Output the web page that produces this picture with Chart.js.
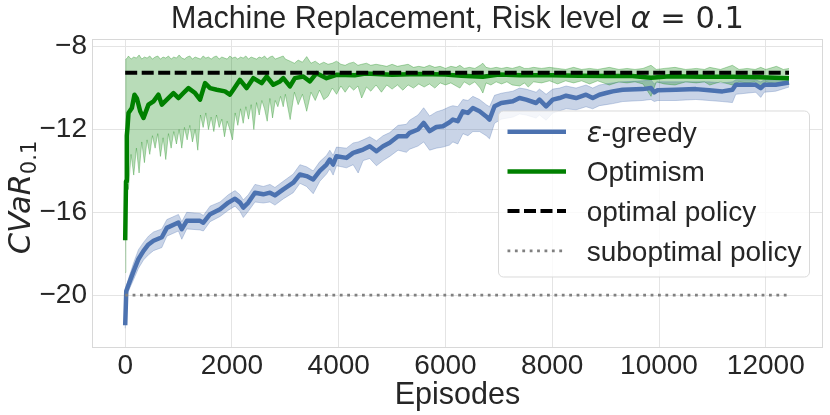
<!DOCTYPE html>
<html>
<head>
<meta charset="utf-8">
<script src="https://cdn.jsdelivr.net/npm/chart.js@4.4.1/dist/chart.umd.min.js"></script>
<style>
  html, body { margin: 0; padding: 0; background: #ffffff; }
  #wrap { width: 830px; height: 415px; }
</style>
</head>
<body>
<div id="wrap"><canvas id="cvarChart" width="830" height="415"></canvas></div>
<script>
// ---- data ----
const xTicks = [0, 2000, 4000, 6000, 8000, 10000, 12000];
const yTicks = [-20, -16, -12, -8];

const blueEp = [0, 20, 62, 156, 249, 343, 436, 530, 686, 780, 997, 1060, 1153, 1402, 1464, 1590, 1777, 1932, 2057, 2150,
  2212, 2306, 2431, 2587, 2712, 2805, 2961, 3148, 3273, 3397, 3522, 3646, 3771, 3833, 3895, 3958, 4145, 4270, 4364, 4457,
  4581, 4706, 4830, 4955, 5111, 5267, 5329, 5485, 5591, 5703, 5828, 5952, 6077, 6139, 6230, 6326, 6420, 6513, 6638, 6763,
  6825, 6919, 7044, 7262, 7386, 7510, 7698, 7760, 7885, 8010, 8135, 8259, 8446, 8633, 8758, 8883, 9007, 9132, 9319, 9693,
  9850, 9911, 9975, 10316, 10690, 10939, 11188, 11375, 11438, 11812, 11906, 11970, 12186, 12435];
const blueMean = [-21.45, -19.8, -19.5, -18.85, -18.25, -17.86, -17.55, -17.37, -17.2, -16.75, -16.49, -16.81, -16.41, -16.41, -16.5, -16.09, -15.85, -15.53, -15.34, -15.53,
  -15.77, -15.53, -15.05, -15.13, -15.05, -15.18, -14.89, -14.57, -14.17, -14.25, -14.41, -14.0, -13.69, -13.45, -13.69, -13.29, -13.37, -13.13, -13.05, -12.97,
  -12.81, -13.05, -12.81, -12.64, -12.33, -12.33, -12.16, -12.0, -11.68, -12.08, -11.88, -11.84, -11.65, -11.52, -11.6, -11.12, -11.2, -10.96, -11.12, -11.37,
  -11.52, -10.88, -10.72, -10.64, -10.48, -10.56, -10.72, -10.56, -10.88, -10.56, -10.48, -10.37, -10.48, -10.32, -10.48, -10.32, -10.24, -10.16, -10.08, -10.05,
  -10.0, -10.21, -10.1, -10.08, -10.05, -10.1, -10.16, -10.08, -9.84, -9.84, -10.0, -9.84, -9.84, -9.73];
const blueHigh = [-21.3, -19.6, -19.2, -18.45, -17.8, -17.45, -17.15, -16.95, -16.8, -16.35, -16.1, -16.45, -16.0, -16.05, -16.15, -15.7, -15.5, -15.15, -14.95, -15.15,
  -15.4, -15.15, -14.65, -14.75, -14.65, -14.8, -14.5, -14.15, -13.7, -13.8, -14.0, -13.55, -13.25, -13.0, -13.25, -12.85, -12.9, -12.65, -12.6, -12.5,
  -12.35, -12.55, -12.3, -12.15, -11.8, -11.75, -11.55, -11.3, -10.95, -11.35, -11.15, -11.05, -10.9, -10.85, -10.9, -10.55, -10.6, -10.4, -10.55, -10.8,
  -10.9, -10.35, -10.25, -10.15, -10.0, -10.05, -10.2, -10.05, -10.3, -10.05, -10.0, -9.9, -10.0, -9.85, -10.0, -9.85, -9.8, -9.75, -9.7, -9.65,
  -9.6, -9.8, -9.7, -9.7, -9.7, -9.7, -9.75, -9.7, -9.6, -9.6, -9.7, -9.6, -9.6, -9.55];
const blueLow = [-21.6, -20.0, -19.8, -19.25, -18.7, -18.3, -18.05, -17.85, -17.7, -17.15, -16.9, -17.3, -16.8, -16.85, -16.9, -16.45, -16.2, -15.9, -15.7, -15.95,
  -16.25, -15.95, -15.5, -15.55, -15.5, -15.65, -15.35, -15.05, -14.6, -14.75, -15.1, -14.5, -14.15, -13.9, -14.2, -13.75, -13.85, -13.7, -14.1, -13.5,
  -13.4, -13.75, -13.5, -13.3, -13.0, -13.1, -12.95, -12.8, -12.6, -13.0, -12.9, -12.85, -12.75, -12.6, -12.7, -12.2, -12.3, -12.1, -12.1, -12.3,
  -12.45, -11.7, -11.5, -11.4, -11.25, -11.3, -11.45, -11.3, -11.55, -11.2, -11.1, -11.0, -11.05, -10.9, -11.0, -10.85, -10.8, -10.75, -10.65, -10.6,
  -10.55, -10.65, -10.6, -10.6, -10.55, -10.6, -10.65, -10.7, -10.3, -10.2, -10.45, -10.2, -10.15, -9.95];

const greenEp = [0, 15, 30, 45, 62, 125, 174, 220, 281, 343, 436, 530, 623, 686, 780, 904, 1000, 1090, 1184, 1309,
  1402, 1496, 1590, 1714, 1870, 1960, 2025, 2150, 2275, 2399, 2556, 2649, 2774, 2899, 2961, 3086, 3179, 3335, 3460, 3584,
  3771, 3958, 4300, 4500, 5000, 5500, 6000, 6300, 6700, 7000, 7400, 8000, 8500, 9000, 9500, 9850, 10200, 10800, 11400, 11900, 12435];
const greenMean = [-17.35, -14.5, -12.3, -11.85, -11.2, -10.96, -10.32, -10.5, -11.12, -11.44, -10.8, -10.64, -10.32, -10.8, -10.56, -10.24, -10.48, -10.24, -10.0, -10.24,
  -10.56, -9.76, -10.0, -10.08, -10.16, -10.32, -10.08, -9.6, -10.0, -9.52, -9.76, -9.44, -9.84, -9.68, -9.52, -9.92, -9.52, -9.44, -9.68, -9.28,
  -9.52, -9.36, -9.38, -9.3, -9.36, -9.32, -9.35, -9.4, -9.45, -9.35, -9.38, -9.38, -9.4, -9.42, -9.42, -9.5, -9.43, -9.45, -9.45, -9.48, -9.52];

const greenBandEp = [0, 12, 40, 60, 110, 160, 210, 260, 310, 360, 410, 460, 510, 560, 610, 660, 710, 760, 810, 860,
  910, 960, 1010, 1060, 1110, 1160, 1210, 1260, 1310, 1360, 1410, 1460, 1510, 1560, 1610, 1660, 1710, 1760, 1810, 1860,
  1910, 1960, 2010, 2060, 2110, 2160, 2210, 2260, 2310, 2360, 2410, 2460, 2510, 2560, 2610, 2660, 2710, 2760, 2810, 2860,
  2910, 2960, 3000, 3090, 3170, 3240, 3320, 3400, 3480, 3560, 3640, 3720, 3800, 3880, 3960, 4040, 4120, 4200, 4280, 4360,
  4430, 4520, 4600, 4700, 4800, 4900, 5000, 5100, 5200, 5300, 5400, 5500, 5600, 5700, 5800, 5900, 6000, 6100, 6200, 6270,
  6350, 6450, 6550, 6650, 6700, 6760, 6850, 6950, 7050, 7150, 7250, 7390, 7480, 7550, 7650, 7800, 7950, 8100, 8250, 8400,
  8550, 8700, 8850, 9070, 9250, 9400, 9550, 9700, 9850, 9950, 10100, 10300, 10500, 10700, 10850, 10950, 11150, 11375, 11500, 11650,
  11800, 11906, 12000, 12200, 12330, 12435];
const greenHigh = [-16.8, -8.6, -8.55, -8.45, -8.6, -8.5, -8.55, -8.4, -8.6, -8.5, -8.55, -8.45, -8.6, -8.5, -8.45, -8.6, -8.5, -8.55, -8.45, -8.6,
  -8.5, -8.55, -8.4, -8.55, -8.6, -8.5, -8.45, -8.6, -8.5, -8.55, -8.6, -8.45, -8.55, -8.5, -8.6, -8.5, -8.45, -8.6, -8.5, -8.55,
  -8.6, -8.45, -8.55, -8.5, -8.6, -8.5, -8.55, -8.45, -8.6, -8.5, -8.55, -8.6, -8.5, -8.55, -8.45, -8.6, -8.5, -8.45, -8.6, -8.55,
  -8.5, -8.45, -8.6, -8.7, -8.8, -8.65, -8.75, -8.48, -8.8, -8.7, -8.85, -8.75, -8.85, -8.8, -8.7, -8.85, -8.9, -8.8, -8.75, -8.9,
  -8.85, -8.8, -8.9, -8.85, -8.9, -8.95, -8.85, -8.95, -8.9, -8.85, -9.0, -8.95, -9.0, -8.9, -9.0, -8.95, -9.05, -8.95, -9.0, -8.9,
  -9.05, -9.0, -9.05, -8.9, -8.8, -9.0, -9.05, -9.0, -9.05, -9.0, -9.05, -8.95, -9.05, -9.05, -9.0, -9.05, -9.0, -9.05, -9.1, -9.0,
  -9.1, -9.05, -9.1, -9.0, -9.1, -9.05, -9.1, -9.05, -8.9, -9.1, -9.05, -9.0, -9.1, -9.05, -9.1, -9.0, -9.1, -8.9, -9.1, -9.05,
  -9.1, -9.0, -9.1, -8.95, -9.1, -9.05];
const greenLow = [-18.9, -16.0, -14.6, -14.9, -13.2, -14.2, -12.9, -14.1, -12.6, -13.6, -12.5, -13.2, -12.3, -12.9, -12.2, -13.3, -12.4, -13.45, -12.2, -12.9,
  -12.1, -12.7, -12.0, -12.9, -11.9, -12.5, -11.8, -12.6, -12.0, -13.0, -11.3, -11.9, -11.2, -12.0, -11.4, -12.1, -11.3, -11.9, -11.5, -12.35,
  -11.6, -12.0, -12.5, -11.2, -11.8, -11.0, -11.7, -10.9, -11.5, -10.8, -12.0, -10.7, -11.3, -10.6, -11.0, -11.6, -10.5, -11.44, -10.6, -10.9,
  -10.4, -10.9, -10.3, -11.52, -10.2, -10.8, -10.3, -11.12, -10.2, -10.6, -10.1, -10.56, -10.4, -10.0, -10.3, -9.9, -10.2, -9.9, -10.1, -9.9,
  -10.48, -9.95, -10.15, -9.85, -10.2, -9.85, -10.05, -9.85, -10.1, -9.85, -10.0, -9.8, -9.95, -9.8, -10.0, -9.75, -9.85, -9.75, -9.9, -10.0,
  -9.7, -9.85, -9.7, -10.0, -10.24, -9.75, -9.85, -9.7, -9.8, -9.7, -9.85, -9.9, -9.75, -9.95, -9.7, -9.75, -9.65, -9.8, -9.65, -9.75,
  -9.65, -9.8, -9.65, -9.85, -9.7, -9.75, -9.7, -9.8, -10.4, -9.7, -9.8, -9.85, -9.7, -9.75, -9.7, -9.85, -9.7, -9.85, -9.7, -9.75,
  -9.7, -10.0, -9.7, -9.8, -9.7, -9.8];

const refEp = [0, 12435];
const optimalValue = [-9.26, -9.26];
const suboptimalValue = [-20.0, -20.0];

// ---- styling ----
const SANS = "'Liberation Sans', Arial, sans-serif";
const MATH = "'DejaVu Sans', sans-serif";
const TEXT = '#262626';
const BLUE = '#4c72b0';
const GREEN = '#008000';

Chart.defaults.font.family = SANS;
Chart.defaults.color = TEXT;

const pts = (xs, ys) => xs.map((x, i) => ({ x: x, y: ys[i] }));
const minus = v => (v < 0 ? '\u2212' + Math.abs(v) : String(v));

function drawRuns(ctx, runs, cx, y) {
  let total = 0;
  runs.forEach(r => { ctx.font = r.font; r.w = ctx.measureText(r.t).width; total += r.w; });
  let x = cx - total / 2;
  ctx.textAlign = 'left';
  ctx.textBaseline = 'alphabetic';
  runs.forEach(r => { ctx.font = r.font; ctx.fillText(r.t, x, y + (r.dy || 0)); x += r.w; });
}

const decor = {
  id: 'decor',
  afterDatasetsDraw(chart) {
    const { ctx, chartArea: a } = chart;
    ctx.save();
    ctx.strokeStyle = '#d8d8d8';
    ctx.lineWidth = 1;
    const l = Math.round(a.left) + 0.5, t = Math.round(a.top) + 0.5;
    ctx.strokeRect(l, t, Math.round(a.right) - Math.round(a.left) - 1, Math.round(a.bottom) - Math.round(a.top) - 1);
    ctx.restore();
  },
  afterDraw(chart) {
    const { ctx, chartArea: a } = chart;
    const cx = (a.left + a.right) / 2;
    const cy = (a.top + a.bottom) / 2;
    ctx.save();
    ctx.fillStyle = TEXT;

    // title
    drawRuns(ctx, [
      { t: 'Machine Replacement, Risk level ', font: '30.5px ' + SANS },
      { t: '\u03b1', font: 'italic 30.5px ' + MATH },
      { t: ' = 0.1', font: '30.5px ' + MATH }
    ], cx, 28);

    // x axis label
    drawRuns(ctx, [{ t: 'Episodes', font: '30.5px ' + SANS }], cx, 404);

    // y axis label
    ctx.save();
    ctx.translate(30, cy + 4);
    ctx.rotate(-Math.PI / 2);
    drawRuns(ctx, [
      { t: 'CVaR', font: 'italic 30.5px ' + MATH },
      { t: '0.1', font: '21px ' + MATH, dy: 6 }
    ], 0, 0);
    ctx.restore();

    // legend
    const bx = 498.5, by = 111, bw = 311, bh = 166;
    ctx.beginPath();
    ctx.roundRect(bx, by, bw, bh, 5);
    ctx.fillStyle = 'rgba(255,255,255,0.8)';
    ctx.fill();
    ctx.strokeStyle = 'rgba(214,214,214,0.9)';
    ctx.lineWidth = 1;
    ctx.stroke();

    const entries = [
      { runs: [{ t: '\u03b5', font: 'italic 28px ' + MATH }, { t: '-greedy', font: '28px ' + SANS }], color: BLUE, width: 4.5, dash: [] },
      { runs: [{ t: 'Optimism', font: '28px ' + SANS }], color: GREEN, width: 4.5, dash: [] },
      { runs: [{ t: 'optimal policy', font: '28px ' + SANS }], color: '#000000', width: 4, dash: [12, 4.5] },
      { runs: [{ t: 'suboptimal policy', font: '28px ' + SANS }], color: '#808080', width: 2.8, dash: [2.8, 4.6] }
    ];
    entries.forEach((e, i) => {
      const y = 131.7 + i * 39.7;
      ctx.beginPath();
      ctx.setLineDash(e.dash);
      ctx.strokeStyle = e.color;
      ctx.lineWidth = e.width;
      ctx.moveTo(507.5, y);
      ctx.lineTo(566, y);
      ctx.stroke();
      ctx.setLineDash([]);
      ctx.fillStyle = TEXT;
      let x = 586.7;
      ctx.textAlign = 'left';
      ctx.textBaseline = 'alphabetic';
      e.runs.forEach(r => { ctx.font = r.font; ctx.fillText(r.t, x, y + 10); x += ctx.measureText(r.t).width; });
    });
    ctx.restore();
  }
};

const ctxCvar = document.getElementById('cvarChart').getContext('2d');
const cvarChart = new Chart(ctxCvar, {
  type: 'line',
  data: {
    datasets: [{
      label: 'optimal policy',
      data: pts(refEp, optimalValue),
      borderColor: '#000000',
      borderWidth: 4,
      borderDash: [12, 4.5],
      borderCapStyle: 'butt'
    }, {
      label: 'suboptimal policy',
      data: pts(refEp, suboptimalValue),
      borderColor: '#808080',
      borderWidth: 2.8,
      borderDash: [2.8, 4.6]
    }, {
      label: 'Optimism',
      data: pts(greenEp, greenMean),
      borderColor: GREEN,
      borderWidth: 4.5
    }, {
      label: '\u03b5-greedy',
      data: pts(blueEp, blueMean),
      borderColor: BLUE,
      borderWidth: 4.5
    }, {
      label: 'Optimism upper',
      data: pts(greenBandEp, greenHigh),
      borderColor: 'rgba(0,128,0,0.3)',
      borderWidth: 1,
      backgroundColor: 'rgba(0,128,0,0.28)',
      fill: '+1'
    }, {
      label: 'Optimism lower',
      data: pts(greenBandEp, greenLow),
      borderColor: 'rgba(0,128,0,0.3)',
      borderWidth: 1,
      fill: false
    }, {
      label: '\u03b5-greedy upper',
      data: pts(blueEp, blueHigh),
      borderColor: 'rgba(76,114,176,0.3)',
      borderWidth: 1,
      backgroundColor: 'rgba(76,114,176,0.3)',
      fill: '+1'
    }, {
      label: '\u03b5-greedy lower',
      data: pts(blueEp, blueLow),
      borderColor: 'rgba(76,114,176,0.3)',
      borderWidth: 1,
      fill: false
    }]
  },
  options: {
    responsive: false,
    animation: false,
    devicePixelRatio: 1,
    layout: { padding: { top: 39, right: 7, left: 0, bottom: 0 } },
    elements: {
      point: { radius: 0, hoverRadius: 0 },
      line: { tension: 0, borderJoinStyle: 'round' }
    },
    plugins: {
      legend: { display: false },
      tooltip: { enabled: false },
      filler: { drawTime: 'beforeDatasetsDraw' }
    },
    scales: {
      x: {
        type: 'linear',
        min: -622,
        max: 13072,
        afterBuildTicks: s => { s.ticks = xTicks.map(v => ({ value: v })); },
        afterFit: s => { s.height = 67; },
        grid: { color: '#e4e4e4', lineWidth: 1, drawTicks: false },
        border: { display: false },
        ticks: { font: { size: 28 }, color: TEXT, padding: 1, maxRotation: 0, callback: v => minus(v) }
      },
      y: {
        type: 'linear',
        min: -22.55,
        max: -7.63,
        afterBuildTicks: s => { s.ticks = yTicks.map(v => ({ value: v })); },
        afterFit: s => { s.width = 92; },
        grid: { color: '#e4e4e4', lineWidth: 1, drawTicks: false },
        border: { display: false },
        ticks: { font: { size: 28 }, color: TEXT, padding: 5, callback: v => minus(v) }
      }
    }
  },
  plugins: [decor]
});
</script>
</body>
</html>
